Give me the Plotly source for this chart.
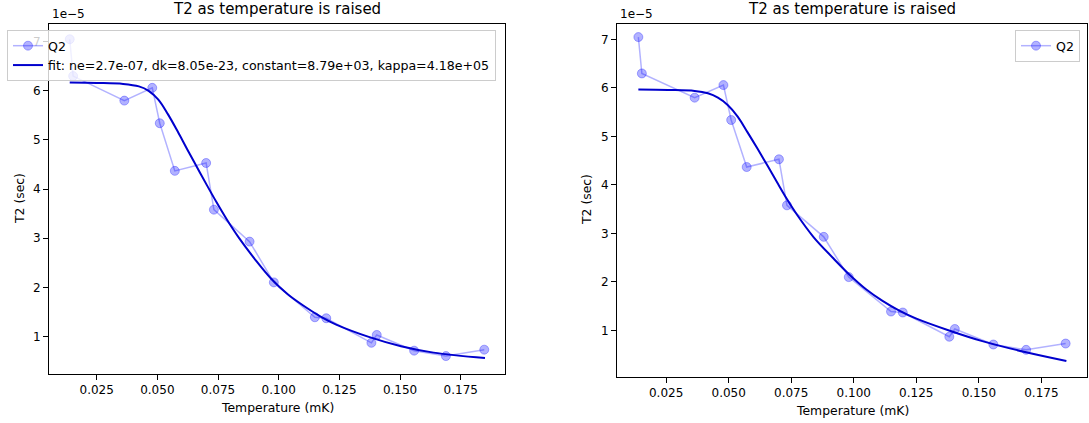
import plotly.graph_objects as go

W, H = 1089, 423

# Measured data (T2 in units of 1e-5 s)
temps = [0.0139, 0.0153, 0.0364, 0.0479, 0.0510, 0.0572, 0.0701, 0.0733, 0.0880,
         0.0980, 0.1149, 0.1196, 0.1382, 0.1404, 0.1558, 0.1689, 0.1847]
t2 = [7.05, 6.30, 5.80, 6.06, 5.34, 4.37, 4.53, 3.58, 2.93,
      2.10, 1.39, 1.37, 0.87, 1.03, 0.71, 0.60, 0.73]

# Fit curve (left panel)
fit_left_x = [0.0139, 0.0251, 0.0359, 0.0424, 0.0464, 0.0504, 0.0544, 0.0584, 0.0624,
              0.0664, 0.0704, 0.0744, 0.0785, 0.0837, 0.0904, 0.0970, 0.1037, 0.1104,
              0.1171, 0.1237, 0.1371, 0.1504, 0.1638, 0.1850]
fit_left_y = [6.17, 6.16, 6.14, 6.09, 6.00, 5.82, 5.52, 5.17, 4.80,
              4.44, 4.08, 3.73, 3.39, 3.00, 2.56, 2.17, 1.86, 1.62,
              1.41, 1.24, 0.99, 0.80, 0.67, 0.56]

# Fit curve (right panel)
fit_right_x = [0.0139, 0.0258, 0.0364, 0.0417, 0.0457, 0.0496, 0.0536, 0.0575, 0.0615,
               0.0655, 0.0694, 0.0734, 0.0774, 0.0840, 0.0916, 0.0983, 0.1049, 0.1115,
               0.1182, 0.1248, 0.1381, 0.1514, 0.1689, 0.1850]
fit_right_y = [5.97, 5.96, 5.94, 5.89, 5.80, 5.65, 5.41, 5.09, 4.75,
               4.40, 4.05, 3.70, 3.38, 2.92, 2.50, 2.15, 1.85, 1.61,
               1.41, 1.25, 1.00, 0.78, 0.55, 0.37]

x_ticks = [0.025, 0.050, 0.075, 0.100, 0.125, 0.150, 0.175]
y_ticks = [1, 2, 3, 4, 5, 6, 7]

title_text = "T2 as temperature is raised"
fit_label = "fit: ne=2.7e-07, dk=8.05e-23, constant=8.79e+03, kappa=4.18e+05"

FONT = "DejaVu Sans"
data_line = "rgba(0,0,255,0.3)"
fit_color = "#0000CD"

def px(x):
    return x / W

def py(y):
    return 1 - y / H

fig = go.Figure()

data_style = dict(
    mode="lines+markers",
    line=dict(color=data_line, width=1.5),
    marker=dict(size=9, color="rgba(0,0,255,0.3)",
                line=dict(color="rgba(0,0,255,0.3)", width=1)),
)

fig.add_trace(go.Scatter(x=temps, y=t2, name="Q2", xaxis="x", yaxis="y",
                         legend="legend", **data_style))
fig.add_trace(go.Scatter(x=fit_left_x, y=fit_left_y, name=fit_label, mode="lines",
                         line=dict(color=fit_color, width=2, shape="spline", smoothing=1.0),
                         xaxis="x", yaxis="y", legend="legend"))
fig.add_trace(go.Scatter(x=temps, y=t2, name="Q2", xaxis="x2", yaxis="y2",
                         legend="legend2", **data_style))
fig.add_trace(go.Scatter(x=fit_right_x, y=fit_right_y, name="fit", mode="lines",
                         line=dict(color=fit_color, width=2, shape="spline", smoothing=1.0),
                         xaxis="x2", yaxis="y2", showlegend=False))

axis_common = dict(
    showline=True, linecolor="black", linewidth=1, mirror=True,
    ticks="outside", ticklen=5, tickwidth=1, tickcolor="black",
    showgrid=False, zeroline=False,
    tickfont=dict(family=FONT, size=12, color="black"),
)

xrange = [0.00536, 0.19324]

fig.update_layout(
    width=W, height=H, autosize=False,
    margin=dict(l=0, r=0, t=0, b=0),
    paper_bgcolor="white", plot_bgcolor="white",
    font=dict(family=FONT, size=12, color="black"),
    xaxis=dict(domain=[px(49), px(505)], range=xrange, anchor="y",
               tickvals=x_ticks, tickformat=".3f", **axis_common),
    yaxis=dict(domain=[py(374), py(23.5)], range=[0.235, 7.37], anchor="x",
               tickvals=y_ticks, **axis_common),
    xaxis2=dict(domain=[px(617), px(1087)], range=xrange, anchor="y2",
                tickvals=x_ticks, tickformat=".3f", **axis_common),
    yaxis2=dict(domain=[py(377), py(23.5)], range=[0.04, 7.33], anchor="x2",
                tickvals=y_ticks, **axis_common),
    legend=dict(x=px(7), y=py(30), xanchor="left", yanchor="top",
                bgcolor="rgba(255,255,255,0.8)", bordercolor="#cccccc", borderwidth=1,
                font=dict(family=FONT, size=12.6, color="black"),
                tracegroupgap=2, itemwidth=30),
    legend2=dict(x=px(1080), y=py(30), xanchor="right", yanchor="top",
                 bgcolor="rgba(255,255,255,0.8)", bordercolor="#cccccc", borderwidth=1,
                 font=dict(family=FONT, size=12.6, color="black"), itemwidth=30),
    showlegend=True,
)

annotations = [
    dict(text=title_text, x=px(277), y=py(9), font=dict(size=15)),
    dict(text=title_text, x=px(852), y=py(9), font=dict(size=15)),
    dict(text="Temperature (mK)", x=px(277), y=py(407), font=dict(size=12.4)),
    dict(text="Temperature (mK)", x=px(852), y=py(410), font=dict(size=12.4)),
    dict(text="T2 (sec)", x=px(19), y=py(199), textangle=-90, font=dict(size=12.4)),
    dict(text="T2 (sec)", x=px(586), y=py(200), textangle=-90, font=dict(size=12.4)),
    dict(text="1e\u22125", x=px(50), y=py(14), xanchor="left", font=dict(size=12)),
    dict(text="1e\u22125", x=px(618), y=py(14), xanchor="left", font=dict(size=12)),
]
for a in annotations:
    a.setdefault("xanchor", "center")
    a.update(xref="paper", yref="paper", yanchor="middle", showarrow=False)
    a["font"] = dict(family=FONT, color="black", **a["font"])
fig.update_layout(annotations=annotations)

fig.write_html("out.html")
